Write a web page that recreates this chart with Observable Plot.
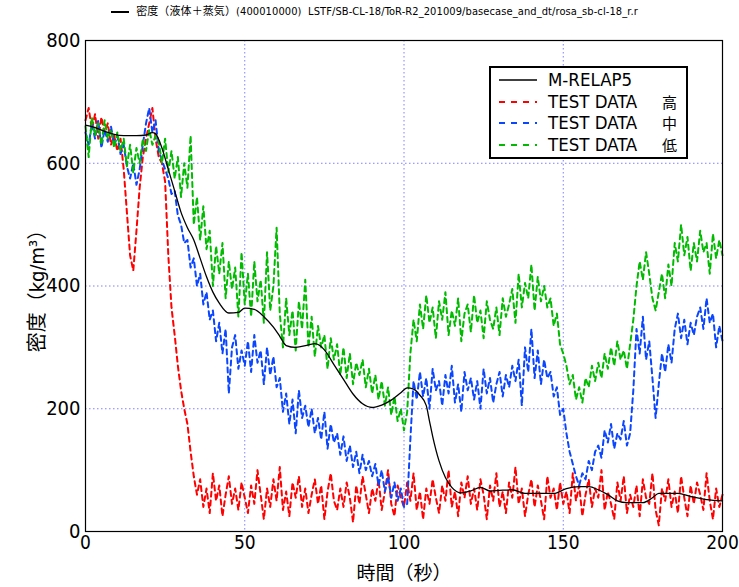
<!DOCTYPE html>
<html>
<head>
<meta charset="utf-8">
<script src="https://cdn.jsdelivr.net/npm/d3@7"></script>
<script src="https://cdn.jsdelivr.net/npm/@observablehq/plot@0.6"></script>
<style>
  body { margin: 0; background: #fff; width: 739px; height: 587px; overflow: hidden; position: relative;
         font-family: "DejaVu Sans Condensed", "Noto Sans CJK JP", sans-serif; }
  #title { height: 26px; line-height: 24px; font-size: 11px; text-align: center; white-space: nowrap; color: #000;
           font-family: "DejaVu Sans Condensed", "Noto Sans CJK JP", sans-serif; padding-left: 10px; box-sizing: border-box; letter-spacing: 0.1px; }
  #title .sample { display: inline-block; width: 18px; border-top: 2px solid #000; vertical-align: middle; margin-right: 7px; }
  #legend { position: absolute; left: 489px; top: 66px; width: 199px; height: 93px; border: 2px solid #000;
            background: #fff; box-sizing: border-box; }
  #legend .row { position: absolute; left: 0; height: 20px; width: 195px; }
  #legend svg { position: absolute; left: 6px; top: 0; }
  #legend .lab { position: absolute; left: 57px; top: 0; height: 20px; line-height: 20px; font-size: 18.5px; white-space: nowrap;
                 font-family: "DejaVu Sans Condensed", sans-serif; }
  #legend .cjk { position: absolute; left: 171px; top: 1px; height: 18px; line-height: 18px; font-family: "Noto Sans CJK JP", sans-serif; font-size: 15px; }
</style>
</head>
<body>
<div id="title"><span class="sample"></span>密度（液体＋蒸気）(400010000)&nbsp; LSTF/SB-CL-18/ToR-R2_201009/basecase_and_dt/rosa_sb-cl-18_r.r</div>
<div id="chart"></div>
<div id="legend"></div>
<script>
// ---- data ----
const xTicks = [0, 50, 100, 150, 200];
const yTicks = [0, 200, 400, 600, 800];
const seriesLabels = ["M-RELAP5", "TEST DATA", "TEST DATA", "TEST DATA"];
const seriesLevels = ["", "高", "中", "低"];
const seriesColors = ["#000000", "#ff0000", "#0a45ff", "#00bb00"];

// test data sampled each second, t = 0..200
const time = d3.range(0, 201);

const testHigh = [
  670,690,655,680,640,675,650,665,630,645,620,
  640,590,520,450,425,490,560,610,640,665,
  690,640,610,600,570,
  450,365,320,270,230,200,175,130,90,60,
  85,40,70,30,95,50,75,25,60,90,45,70,35,80,55,
  30,75,45,100,60,20,70,40,85,50,
  105,35,65,25,80,55,90,40,70,30,
  60,85,45,75,20,65,95,50,35,70,
  40,80,55,15,75,45,90,60,30,70,
  50,85,35,65,100,45,25,75,55,40,
  80,50,95,35,65,20,70,45,85,55,
  30,75,50,100,40,65,25,80,55,90,
  45,70,35,85,60,20,75,50,95,40,
  65,30,80,55,105,45,70,25,60,85,
  40,75,50,20,90,55,70,35,80,45,
  65,30,95,50,75,25,60,85,40,70,
  55,100,35,65,45,20,80,50,90,30,
  60,40,75,25,85,55,45,95,35,10,
  70,50,85,40,65,30,90,55,25,75,
  45,80,60,35,95,50,20,70,40,60
];

const testMid = [
  650,630,665,640,670,625,655,635,660,630,645,
  615,630,595,575,600,565,590,
  630,665,690,650,670,620,605,590,
  575,550,555,515,500,470,475,430,445,400,
  420,370,390,345,360,310,340,290,330,225,300,320,265,295,270,
  310,260,320,275,295,240,300,255,285,235,
  250,195,225,175,215,160,230,185,205,170,
  200,160,185,150,195,135,175,145,160,125,
  155,115,140,105,130,95,125,100,115,90,
  110,75,100,65,90,55,80,50,70,40,
  45,150,245,215,260,
  220,250,200,265,230,245,205,255,225,270,
  210,240,195,260,230,250,215,245,200,265,
  225,250,210,240,260,220,255,235,270,245,
  280,205,300,260,330,250,295,240,280,250,
  260,220,235,190,200,160,130,
  110,90,75,95,85,115,100,130,
  140,120,165,145,175,135,160,150,180,140,160,
  230,330,290,350,280,310,
  250,185,240,
  290,260,305,275,
  330,355,315,345,305,340,320,350,
  365,330,380,340,355,300,335,310
];

const testLow = [
  660,610,675,645,665,630,670,640,655,625,650,
  620,640,595,630,585,625,600,
  640,620,655,630,645,635,
  600,640,585,620,575,
  610,545,600,560,645,
  500,545,475,530,460,
  490,400,465,420,470,
  380,440,395,430,350,455,370,
  420,350,440,375,410,340,455,360,400,495,
  355,300,380,320,360,295,375,330,410,300,
  350,285,335,300,320,265,315,280,305,255,
  300,250,290,240,275,255,280,235,265,225,
  255,215,245,205,235,190,220,180,200,165,
  195,290,345,310,370,
  330,385,340,365,315,375,345,390,320,360,
  335,380,310,355,370,325,385,340,360,315,
  375,345,330,365,320,380,350,370,395,340,
  420,365,405,380,435,360,415,375,400,365,
  380,335,355,305,290,270,240,
  255,215,235,210,250,235,270,245,
  275,250,290,265,300,270,310,280,295,265,305,
  345,400,440,410,455,420,
  380,360,390,
  420,380,435,400,
  470,440,500,450,480,425,470,440,
  490,455,470,420,485,445,475,450
];

// M-RELAP5 calculation (smooth curve), key points
const modelTime = [0,3,6,9,12,16,19,21,22,24,26,28,30,32,34,36,38,40,42,45,48,50,53,56,59,61,63,66,70,72,75,78,81,84,87,90,93,96,99,101,103,105,107,108,109,111,113,115,118,121,124,127,130,134,138,142,147,151,155,158,161,164,167,170,175,178,180,186,190,195,200];
const modelValue = [662,658,652,647,645,645,646,650,648,625,590,555,520,495,475,445,415,390,372,356,357,364,362,350,333,318,303,300,304,306,296,272,248,224,208,202,206,214,226,234,232,222,205,180,155,115,88,72,63,66,72,66,67,68,62,62,62,70,73,73,68,60,50,47,47,55,62,62,57,52,50];

// ---- build tables ----
const toRows = (vals) => vals.map((v, i) => ({t: time[i], v}));
const highRows = toRows(testHigh);
const midRows = toRows(testMid);
const lowRows = toRows(testLow);
const modelRows = modelTime.map((t, i) => ({t, v: modelValue[i]}));

const dash = "5,4";
const chart = Plot.plot({
  width: 739,
  height: 561,
  marginTop: 14,
  marginBottom: 56,
  marginLeft: 85,
  marginRight: 17,
  style: {fontSize: "20px", fontFamily: '"DejaVu Sans Condensed", "Noto Sans CJK JP", sans-serif', color: "#000", background: "#fff"},
  x: {domain: [0, 200]},
  y: {domain: [0, 800]},
  marks: [
    Plot.gridX(xTicks.slice(1, -1), {stroke: "#6a6aff", strokeOpacity: 0.85, strokeDasharray: "1.5,2.5"}),
    Plot.gridY(yTicks.slice(1, -1), {stroke: "#6a6aff", strokeOpacity: 0.85, strokeDasharray: "1.5,2.5"}),
    Plot.line(highRows, {x: "t", y: "v", stroke: seriesColors[1], strokeWidth: 2, strokeDasharray: dash}),
    Plot.line(midRows, {x: "t", y: "v", stroke: seriesColors[2], strokeWidth: 2, strokeDasharray: dash}),
    Plot.line(lowRows, {x: "t", y: "v", stroke: seriesColors[3], strokeWidth: 2, strokeDasharray: dash}),
    Plot.line(modelRows, {x: "t", y: "v", stroke: seriesColors[0], strokeWidth: 1.3, curve: "monotone-x"}),
    Plot.axisX(xTicks, {tickSize: 0, tickPadding: 4, fontSize: 19, label: "時間（秒）", labelAnchor: "center", labelArrow: "none", labelOffset: 48}),
    Plot.axisY(yTicks, {tickSize: 0, tickPadding: 5, label: "密度（kg/m³）", labelAnchor: "center", labelArrow: "none", labelOffset: 56}),
    Plot.frame({stroke: "#000", strokeWidth: 1.2})
  ]
});
document.getElementById("chart").appendChild(chart);

// ---- legend ----
const legend = document.getElementById("legend");
const rowTops = [2, 23.5, 45, 66.5];
seriesLabels.forEach((name, i) => {
  const row = document.createElement("div");
  row.className = "row";
  row.style.top = rowTops[i] + "px";
  const dashAttr = i === 0 ? "" : ` stroke-dasharray="6,6"`;
  let html = `<svg width="42" height="20"><line x1="2" x2="40" y1="10" y2="10" stroke="${seriesColors[i]}" stroke-width="${i === 0 ? 1.6 : 2}"${dashAttr}/></svg><span class="lab">${name}</span>`;
  if (seriesLevels[i]) html += `<span class="cjk">${seriesLevels[i]}</span>`;
  row.innerHTML = html;
  legend.appendChild(row);
});
</script>
</body>
</html>
